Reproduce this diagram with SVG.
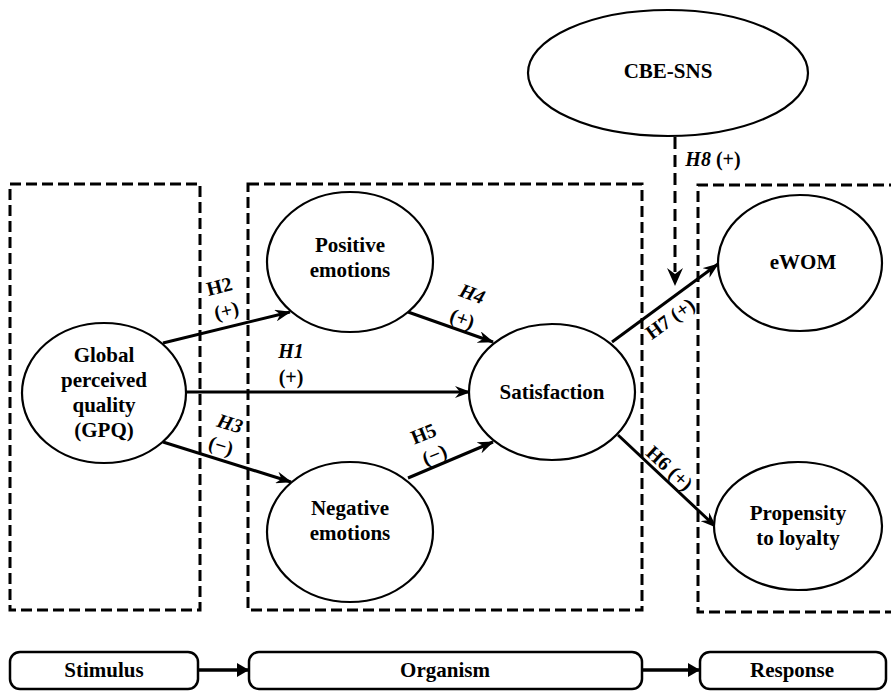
<svg xmlns="http://www.w3.org/2000/svg" width="891" height="691" viewBox="0 0 891 691" font-family="'Liberation Serif', serif">
<style>
text{font-family:'Liberation Serif',serif;font-weight:bold;fill:#000;text-anchor:middle}
.node{font-size:21px}
.lab{font-size:20px}
.it{font-style:italic}
.ell{fill:#fff;stroke:#000;stroke-width:2.2}
.dash{fill:none;stroke:#000;stroke-width:3;stroke-dasharray:11 5}
.box{fill:#fff;stroke:#000;stroke-width:2.5}
.arr{fill:none;stroke:#000;stroke-width:3;marker-end:url(#ah)}
.barr{fill:none;stroke:#000;stroke-width:3.5;marker-end:url(#bh)}
</style>
<defs>
<marker id="ah" markerUnits="userSpaceOnUse" viewBox="0 0 16 12" refX="15" refY="6" markerWidth="16" markerHeight="12" orient="auto">
<path d="M0,0 L16,6 L0,12 L5,6 z" fill="#000"/>
</marker>
<marker id="bh" markerUnits="userSpaceOnUse" viewBox="0 0 12 14" refX="12" refY="7" markerWidth="12" markerHeight="14" orient="auto">
<path d="M0,0 L12,7 L0,14 z" fill="#000"/>
</marker>
</defs>
<rect width="891" height="691" fill="#fff"/>

<g id="regions">
<rect class="dash" x="10" y="184" width="190" height="426"/>
<rect class="dash" x="248" y="184" width="394" height="426"/>
<path class="dash" d="M900,185 L698,185 L698,612 L900,612"/>
</g>

<g id="connectors">
<line class="arr" x1="163" y1="343" x2="290" y2="312"/>
<line class="arr" x1="186" y1="392" x2="470" y2="392"/>
<line class="arr" x1="163" y1="442" x2="291" y2="482"/>
<line class="arr" x1="408" y1="312" x2="493" y2="342"/>
<line class="arr" x1="408" y1="478" x2="493" y2="442"/>
<line class="arr" x1="612" y1="342" x2="718" y2="264"/>
<line class="arr" x1="618" y1="435" x2="716" y2="527"/>
<line fill="none" stroke="#000" stroke-width="3" stroke-dasharray="12 6" x1="675" y1="137" x2="675" y2="272"/>
<path d="M667,268 L675,286 L683,268 L675,274 z" fill="#000"/>
<line class="barr" x1="198" y1="670" x2="249" y2="670"/>
<line class="barr" x1="642" y1="670" x2="700" y2="670"/>
</g>

<g id="labels" font-family="'Liberation Serif', serif" font-weight="bold">
<text class="lab" transform="rotate(-14 221 293)" x="221" y="293">H2</text>
<text class="lab" transform="rotate(-14 228 317)" x="228" y="317">(+)</text>
<text class="lab it" x="291" y="358">H1</text>
<text class="lab" x="291" y="384">(+)</text>
<text class="lab it" transform="rotate(17 228 430)" x="228" y="430">H3</text>
<text class="lab" transform="rotate(17 219 452)" x="219" y="452">(−)</text>
<text class="lab it" transform="rotate(20 470 300)" x="470" y="300">H4</text>
<text class="lab" transform="rotate(20 460 325)" x="460" y="325">(+)</text>
<text class="lab" transform="rotate(-22 426 440)" x="426" y="440">H5</text>
<text class="lab" transform="rotate(-22 437 461)" x="437" y="461">(−)</text>
<text class="lab" transform="rotate(43 665 473)" x="665" y="473">H6 (+)</text>
<text class="lab" transform="rotate(-36 674 324)" x="674" y="324">H7 (+)</text>
<text class="lab" x="713" y="166"><tspan class="it">H8</tspan> (+)</text>
</g>

<g id="cbe" font-family="'Liberation Serif', serif">
<ellipse class="ell" cx="668" cy="73" rx="140" ry="63"/>
<text class="node" x="668" y="78">CBE-SNS</text>
</g>
<g id="gpq" font-family="'Liberation Serif', serif">
<ellipse class="ell" cx="104" cy="393" rx="82" ry="70"/>
<text class="node" x="104" y="362">Global</text>
<text class="node" x="104" y="387">perceived</text>
<text class="node" x="104" y="412">quality</text>
<text class="node" x="104" y="437">(GPQ)</text>
</g>
<g id="positive" font-family="'Liberation Serif', serif">
<ellipse class="ell" cx="350" cy="262" rx="83" ry="70"/>
<text class="node" x="350" y="252">Positive</text>
<text class="node" x="350" y="277">emotions</text>
</g>
<g id="negative" font-family="'Liberation Serif', serif">
<ellipse class="ell" cx="350" cy="532" rx="83" ry="70"/>
<text class="node" x="350" y="515">Negative</text>
<text class="node" x="350" y="540">emotions</text>
</g>
<g id="satisfaction" font-family="'Liberation Serif', serif">
<ellipse class="ell" cx="552" cy="392" rx="83" ry="68"/>
<text class="node" x="552" y="399">Satisfaction</text>
</g>
<g id="ewom" font-family="'Liberation Serif', serif">
<ellipse class="ell" cx="800" cy="263" rx="82" ry="68"/>
<text class="node" x="803" y="269">eWOM</text>
</g>
<g id="loyalty" font-family="'Liberation Serif', serif">
<ellipse class="ell" cx="798" cy="526" rx="84" ry="64"/>
<text class="node" x="798" y="520">Propensity</text>
<text class="node" x="798" y="545">to loyalty</text>
</g>

<g id="stimulus" font-family="'Liberation Serif', serif">
<rect class="box" x="10" y="652" width="188" height="37" rx="10"/>
<text class="node" x="104" y="677">Stimulus</text>
</g>
<g id="organism" font-family="'Liberation Serif', serif">
<rect class="box" x="249" y="652" width="393" height="37" rx="10"/>
<text class="node" x="445" y="677">Organism</text>
</g>
<g id="response" font-family="'Liberation Serif', serif">
<rect class="box" x="700" y="652" width="186" height="37" rx="10"/>
<text class="node" x="792" y="677">Response</text>
</g>
</svg>
